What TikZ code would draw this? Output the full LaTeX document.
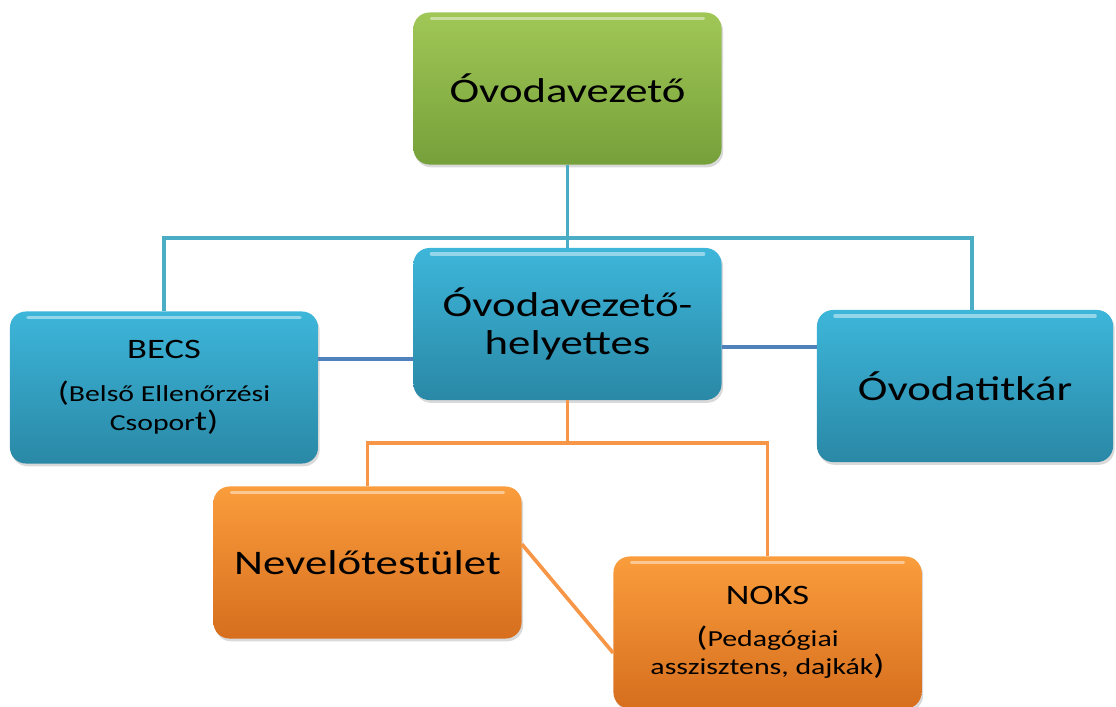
\documentclass[tikz,border=0pt]{standalone}
\usepackage{fontspec}
\setmainfont[FakeStretch=1.3]{Carlito}
\usetikzlibrary{shadows}

\definecolor{greenTop}{HTML}{A0C756}
\definecolor{greenBot}{HTML}{76A03A}
\definecolor{blueTop}{HTML}{3DB6DA}
\definecolor{blueBot}{HTML}{2A88A6}
\definecolor{orangeTop}{HTML}{FA9D3C}
\definecolor{orangeBot}{HTML}{D66E1E}
\definecolor{lineBlue}{HTML}{4BACC6}
\definecolor{lineDark}{HTML}{4F81BD}
\definecolor{lineOrange}{HTML}{F79646}

\newcommand{\bigpar}{\fontsize{20}{20}\selectfont}

\tikzset{
  box/.style={rounded corners=0.4cm, minimum width=7.7cm, minimum height=3.8cm,
    inner sep=0pt, align=center, text=black,
    drop shadow={opacity=0.3, shadow xshift=0.04cm, shadow yshift=-0.07cm},
    path picture={\draw[white, opacity=0.45, line width=2.5pt, line cap=round]
      ([xshift=0.45cm, yshift=-0.15cm]path picture bounding box.north west) --
      ([xshift=-0.45cm, yshift=-0.15cm]path picture bounding box.north east);}},
  greenbox/.style={box, top color=greenTop, bottom color=greenBot},
  bluebox/.style={box, top color=blueTop, bottom color=blueBot},
  orangebox/.style={box, top color=orangeTop, bottom color=orangeBot},
  bigtext/.style={font=\fontsize{24.5}{26.5}\selectfont},
  smalltext/.style={font=\fontsize{16.3}{20.6}\selectfont},
  blueline/.style={draw=lineBlue, line width=2.6pt},
  darkline/.style={draw=lineDark, line width=2.6pt},
  orangeline/.style={draw=lineOrange, line width=2.6pt}
}

\begin{document}
\begin{tikzpicture}[x=0.025cm, y=-0.025cm]
        \useasboundingbox (0,0) rectangle (1116,706);

        \node[greenbox, bigtext] (nodeVezeto) at (567.5,88.5) {Óvodavezető};
        \node[bluebox, bigtext] (nodeHelyettes) at (567.5,324) {Óvodavezető-\\helyettes};
        \node[bluebox, smalltext] (nodeBecs) at (164,387.5)
          {{\fontsize{20}{20}\selectfont BECS}\\[10pt]{\bigpar(}Belső Ellenőrzési\\Csopor{\bigpar t)}};
        \node[bluebox, bigtext, minimum width=7.4cm] (nodeTitkar) at (965,386) {Óvodatitkár};
        \node[orangebox, bigtext] (nodeNevelo) at (367.5,562.5) {Nevelőtestület};
        \node[orangebox, smalltext] (nodeNoks) at (767.5,632.5)
          {{\fontsize{20}{20}\selectfont NOKS}\\[9pt]{\bigpar(}Pedagógiai\\asszisztens, dajkák{\bigpar)}};

        \coordinate (barBlue) at (567.5,238);
        \coordinate (barOrange) at (567.5,443);

        \draw[blueline] (nodeVezeto) -- (nodeHelyettes);
        \draw[blueline] (nodeBecs.north) |- (barBlue) -| ([xshift=0.17cm]nodeTitkar.north);
        \draw[darkline] (nodeBecs.east |- 0,359) -- (nodeHelyettes.west |- 0,359);
        \draw[darkline] (nodeHelyettes.east |- 0,347) -- (nodeTitkar.west |- 0,347);

        \draw[orangeline] (nodeHelyettes) -- (barOrange);
        \draw[orangeline] (nodeNevelo.north) |- (barOrange) -| (nodeNoks.north);
        \draw[orangeline] ([yshift=0.46cm]nodeNevelo.east) -- ([yshift=-0.51cm]nodeNoks.west);
    \end{tikzpicture}
\end{document}
